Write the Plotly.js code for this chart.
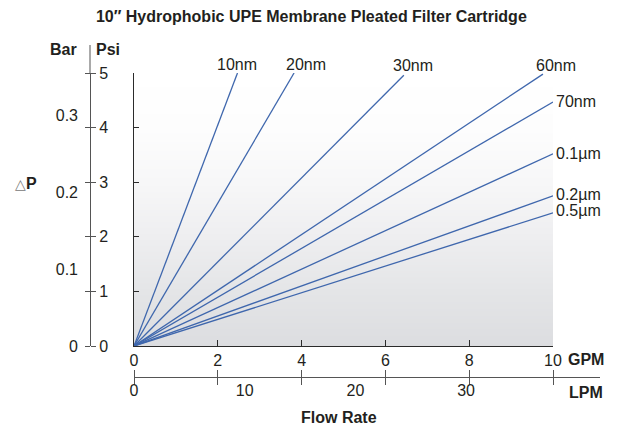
<!DOCTYPE html>
<html>
<head>
<meta charset="utf-8">
<script src="https://cdn.plot.ly/plotly-3.0.1.min.js"></script>
<style>html,body{margin:0;padding:0;background:#fff}#chart{width:619px;height:430px}</style>
</head>
<body>
<div id="chart"></div>
<script>
// ---- data ----
const seriesNames = ['10nm', '20nm', '30nm', '60nm', '70nm', '0.1µm', '0.2µm', '0.5µm'];
const endGPM = [2.47, 3.82, 6.44, 9.76, 10, 10, 10, 10];
const endPsi = [5.0, 5.0, 4.96, 4.98, 4.47, 3.52, 2.75, 2.44];
const gpmTicks = [0, 2, 4, 6, 8, 10];
const psiTicks = [0, 1, 2, 3, 4, 5];
const barTicks = [0, 0.1, 0.2, 0.3];
const barTickText = ['0', '0.1', '0.2', '0.3'];
const lpmTicks = [0, 10, 20, 30];
const LPM_PER_GPM = 3.78541;

// ---- layout helpers (pixel -> paper) ----
const W = 619, H = 430;
const px = x => x / W;
const py = y => 1 - y / H;
const FONT = 'Liberation Sans, Arial, Helvetica, sans-serif';
const TXT = '#231f20';
const LINE = '#2b2b2b';
const BLUE = '#3f67ad';

// plot area pixels
const X0 = 134, X1 = 553, Y0 = 346, Y1 = 73;
const gpmPerPx = 10 / (X1 - X0);
const LPM_X1 = 600, LPM_Y = 376.5;
const lpmAxisGpmMax = (LPM_X1 - X0) * gpmPerPx;

const traces = [];
// background gradient
traces.push({
  type: 'heatmap', x: [0, 10], y: [0, 5], z: [[0, 0], [1, 1]],
  zsmooth: 'best', showscale: false, hoverinfo: 'skip',
  colorscale: [[0, '#dcdde0'], [0.2, '#e4e5e7'], [0.4, '#eeeef0'], [0.6, '#f7f7f8'], [0.8, '#fdfdfd'], [1, '#ffffff']],
  xaxis: 'x', yaxis: 'y'
});
seriesNames.forEach((n, i) => {
  traces.push({
    type: 'scatter', mode: 'lines', name: n,
    x: [0, endGPM[i]], y: [0, endPsi[i]],
    line: {color: BLUE, width: 1.3}, showlegend: false, hoverinfo: 'skip',
    xaxis: 'x', yaxis: 'y', cliponaxis: false
  });
});
// empty traces so the extra axes are registered and drawn
[['x2', 'y'], ['x3', 'y'], ['x4', 'y'], ['x', 'y2'], ['x', 'y3'], ['x', 'y4']].forEach(a =>
  traces.push({type: 'scatter', mode: 'lines', x: [null], y: [null], xaxis: a[0], yaxis: a[1], showlegend: false, hoverinfo: 'skip'}));

const labelStyle = [
  {xanchor: 'center', yanchor: 'middle', xshift: 0, yshift: 9},
  {xanchor: 'center', yanchor: 'middle', xshift: 12, yshift: 9},
  {xanchor: 'center', yanchor: 'middle', xshift: 9, yshift: 10},
  {xanchor: 'center', yanchor: 'middle', xshift: 13, yshift: 9},
  {xanchor: 'left', yanchor: 'middle', xshift: 1, yshift: 0},
  {xanchor: 'left', yanchor: 'middle', xshift: 1, yshift: 0},
  {xanchor: 'left', yanchor: 'middle', xshift: 1, yshift: 1},
  {xanchor: 'left', yanchor: 'middle', xshift: 1, yshift: 2}
];

const annotations = seriesNames.map((n, i) => Object.assign({
  text: n, x: endGPM[i], y: endPsi[i], xref: 'x', yref: 'y', showarrow: false,
  font: {family: FONT, size: 16, color: TXT}
}, labelStyle[i]));

const bold = (t, x, y, xa) => ({text: '<b>' + t + '</b>', x: px(x), y: py(y), xref: 'paper', yref: 'paper',
  xanchor: xa || 'center', yanchor: 'middle', showarrow: false, font: {family: FONT, size: 16, color: TXT}});
annotations.push(bold('Bar', 63, 50));
annotations.push(bold('Psi', 94, 50, 'left'));
annotations.push(bold('GPM', 566, 359, 'left'));
annotations.push(bold('LPM', 567, 392, 'left'));
annotations.push(bold('Flow Rate', 339, 417));
annotations.push({text: '<span style="color:#777;font-size:14px">△</span><b>P</b>', x: px(13), y: py(183), xref: 'paper', yref: 'paper',
  xanchor: 'left', yanchor: 'middle', showarrow: false, font: {family: FONT, size: 16, color: TXT}});

const tickFont = {family: FONT, size: 16, color: TXT};
const layout = {
  width: W, height: H,
  margin: {l: 0, r: 0, t: 0, b: 0, pad: 0},
  paper_bgcolor: '#ffffff', plot_bgcolor: 'rgba(0,0,0,0)',
  showlegend: false,
  title: {text: '<b>10″ Hydrophobic UPE Membrane Pleated Filter Cartridge</b>', x: 0.503, xanchor: 'center',
    y: 1 - 16.5 / H, yanchor: 'middle', font: {family: FONT, size: 16, color: TXT}},
  xaxis: {domain: [px(X0), px(X1)], range: [0, 10], anchor: 'y', showline: true, linecolor: LINE, linewidth: 1.2,
    ticks: 'inside', ticklen: 6, tickcolor: LINE, tickvals: gpmTicks, showgrid: false, zeroline: false,
    tickfont: tickFont, fixedrange: true},
  yaxis: {domain: [py(Y0), py(Y1)], range: [0, 5], anchor: 'x', showline: true, linecolor: LINE, linewidth: 1.2,
    ticks: 'inside', ticklen: 5, tickcolor: LINE, tickvals: psiTicks, showticklabels: false, showgrid: false,
    zeroline: false, fixedrange: true},
  yaxis2: {overlaying: 'y', anchor: 'free', position: px(90), side: 'right', range: [0, 5], showline: true,
    linecolor: '#555', linewidth: 1, ticks: 'outside', ticklen: 5, tickcolor: '#555', tickvals: psiTicks,
    tickfont: tickFont, showgrid: false, zeroline: false, fixedrange: true},
  yaxis3: {overlaying: 'y', anchor: 'free', position: px(90), side: 'left', range: [0, 5], showline: false,
    ticks: 'outside', ticklen: 5, tickcolor: '#555', tickvals: psiTicks, showticklabels: false,
    showgrid: false, zeroline: false, fixedrange: true},
  yaxis4: {overlaying: 'y', anchor: 'free', position: px(78), side: 'left', range: [0, 0.1 * (Y0 - Y1) / 77],
    showline: false, ticks: '', tickvals: barTicks, ticktext: barTickText, tickfont: tickFont,
    showgrid: false, zeroline: false, fixedrange: true},
  xaxis2: {domain: [px(X0), px(LPM_X1)], anchor: 'free', position: py(LPM_Y), range: [0, lpmAxisGpmMax],
    showline: true, linecolor: '#555', linewidth: 1, ticks: 'outside', ticklen: 7, tickcolor: '#555',
    tickvals: gpmTicks, showticklabels: false, showgrid: false, zeroline: false, fixedrange: true},
  xaxis3: {domain: [px(X0), px(LPM_X1)], anchor: 'free', position: py(LPM_Y), side: 'top', range: [0, lpmAxisGpmMax],
    showline: false, ticks: 'outside', ticklen: 7, tickcolor: '#555',
    tickvals: gpmTicks, showticklabels: false, showgrid: false, zeroline: false, fixedrange: true},
  xaxis4: {domain: [px(X0), px(LPM_X1)], anchor: 'free', position: py(LPM_Y), range: [0, lpmAxisGpmMax * LPM_PER_GPM],
    showline: false, ticks: '', tickvals: lpmTicks, tickfont: tickFont, ticklabelstandoff: 2,
    showgrid: false, zeroline: false, fixedrange: true},
  shapes: [
    {type: 'line', xref: 'paper', yref: 'paper', x0: px(90), x1: px(90), y0: py(Y1), y1: py(45),
      line: {color: '#555', width: 1}}
  ],
  annotations: annotations
};

Plotly.newPlot('chart', traces, layout, {displayModeBar: false, staticPlot: true});
</script>
</body>
</html>
